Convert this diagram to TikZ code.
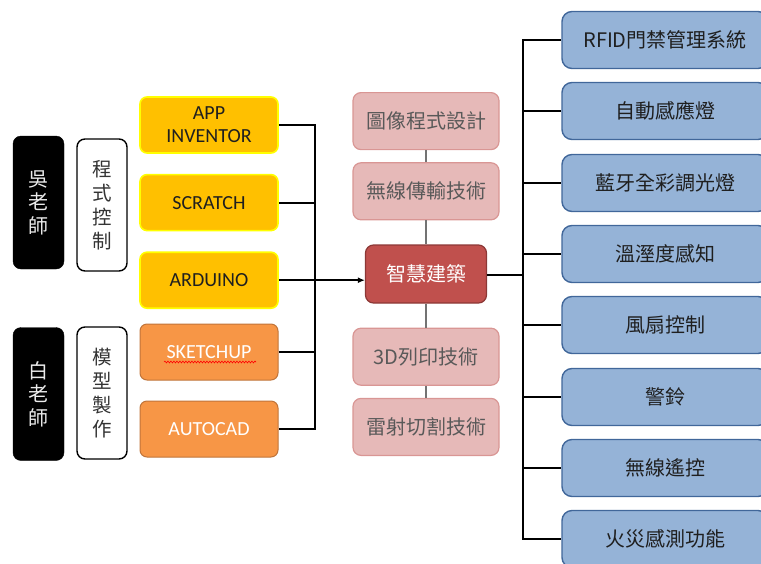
\documentclass[tikz,border=0pt]{standalone}
\usepackage{fontspec}
\setmainfont{Carlito}
\newfontfamily\cjk{Noto Sans CJK TC}
\usetikzlibrary{positioning,arrows.meta,decorations.pathmorphing}

\definecolor{ybox}{HTML}{FFC000}
\definecolor{yline}{HTML}{FFFF00}
\definecolor{obox}{HTML}{F79646}
\definecolor{oline}{HTML}{C0743A}
\definecolor{pbox}{HTML}{E6B9B8}
\definecolor{pline}{HTML}{D99694}
\definecolor{ptext}{HTML}{595959}
\definecolor{rbox}{HTML}{C0504D}
\definecolor{rline}{HTML}{8C3836}
\definecolor{bbox}{HTML}{95B3D7}
\definecolor{bline}{HTML}{41679A}

\begin{document}
\begin{tikzpicture}[
    x=1pt,y=-1pt,
    font=\fontsize{20}{23}\selectfont,
    base/.style={rectangle,inner sep=0pt,align=center},
    teacher/.style={base,fill=black,draw=black,rounded corners=8pt,text=white!92!black,
      minimum width=51pt,minimum height=133pt,font=\cjk\fontsize{20}{23.5}\selectfont},
    topic/.style={base,fill=white,draw=black,line width=1.4pt,rounded corners=8pt,text=black!80,
      minimum width=50pt,minimum height=132pt,font=\cjk\fontsize{19.5}{24}\selectfont},
    tool/.style={base,fill=ybox,draw=yline,line width=1.6pt,rounded corners=7pt,text=black!88,
      minimum width=138pt,minimum height=56pt},
    model/.style={base,fill=obox,draw=oline,line width=1pt,rounded corners=7pt,text=white,
      minimum width=138pt,minimum height=56pt},
    skill/.style={base,fill=pbox,draw=pline,line width=1.2pt,rounded corners=8pt,text=ptext,
      minimum width=146pt,minimum height=57pt,font=\cjk\fontsize{20}{23}\selectfont},
    hub/.style={base,fill=rbox,draw=rline,line width=1.2pt,rounded corners=8pt,text=white,
      minimum width=121pt,minimum height=58pt,font=\cjk\fontsize{20}{23}\selectfont},
    feature/.style={base,fill=bbox,draw=bline,line width=1.4pt,rounded corners=10pt,text=black!88,
      minimum width=206pt,minimum height=57pt,font=\cjk\fontsize{20}{23}\selectfont},
    tree/.style={draw=black,line width=2pt},
    stem/.style={draw=black!55,line width=1.4pt}
  ]
  \useasboundingbox (0,0) rectangle (761,563);
  \clip (0,0) rectangle (761,563);

  % teachers and topics
  \node(wu) [teacher] at (38.5,202.5) {吳\\老\\師};
  \node(bai) [teacher] at (38.5,394) {白\\老\\師};
  \node(prog) [topic] at (102,205) {程\\式\\控\\制};
  \node(make) [topic] at (102,393) {模\\型\\製\\作};

  % software
  \node(app) [tool] at (209,125) {APP\\INVENTOR};
  \node(scratch) [tool,below=20pt of app] {SCRATCH};
  \node(ard) [tool,below=20pt of scratch] {ARDUINO};
  \node(sketch) [model] at (209,352) {SKETCHUP};
  \node(cad) [model,below=20pt of sketch] {AUTOCAD};
  \draw[red,line width=0.6pt,decorate,decoration={snake,amplitude=0.9pt,segment length=3pt}]
    ([shift={(-45,10)}]sketch.center) -- ([shift={(47,10)}]sketch.center);

  % center column
  \node(smart) [hub] at (426,274) {智慧建築};
  \node(wire) [skill,above=24pt of smart] {無線傳輸技術};
  \node(graph) [skill,above=12pt of wire] {圖像程式設計};
  \node(print) [skill,below=24pt of smart] {3D列印技術};
  \node(laser) [skill,below=12pt of print] {雷射切割技術};

  % features
  \foreach \t/\y [count=\i] in {RFID門禁管理系統/40,自動感應燈/111,藍牙全彩調光燈/183,
      溫溼度感知/254,風扇控制/325,警鈴/397,無線遙控/468,火災感測功能/539}
    \node(f\i) [feature] at (665,\y) {\t};

  % connectors
  \coordinate(lj) at (315,275);
  \draw[tree] (app.east) -| (lj);
  \draw[tree] (cad.east) -| (lj);
  \draw[tree] (scratch.east) -- (scratch.east -| lj);
  \draw[tree] (sketch.east) -- (sketch.east -| lj);
  \draw[tree,-{Latex[length=7pt,width=6pt]}] (ard.east) -- (ard.east -| smart.west);

  \draw[stem] (graph) -- (wire);
  \draw[stem] (wire) -- (smart);
  \draw[stem] (smart) -- (print);
  \draw[stem] (print) -- (laser);

  \coordinate(rj) at (523,275);
  \draw[tree] (smart.east |- rj) -- (rj);
  \foreach \i in {1,...,8}
    \draw[tree] (rj) |- (f\i.west);

\end{tikzpicture}
\end{document}
